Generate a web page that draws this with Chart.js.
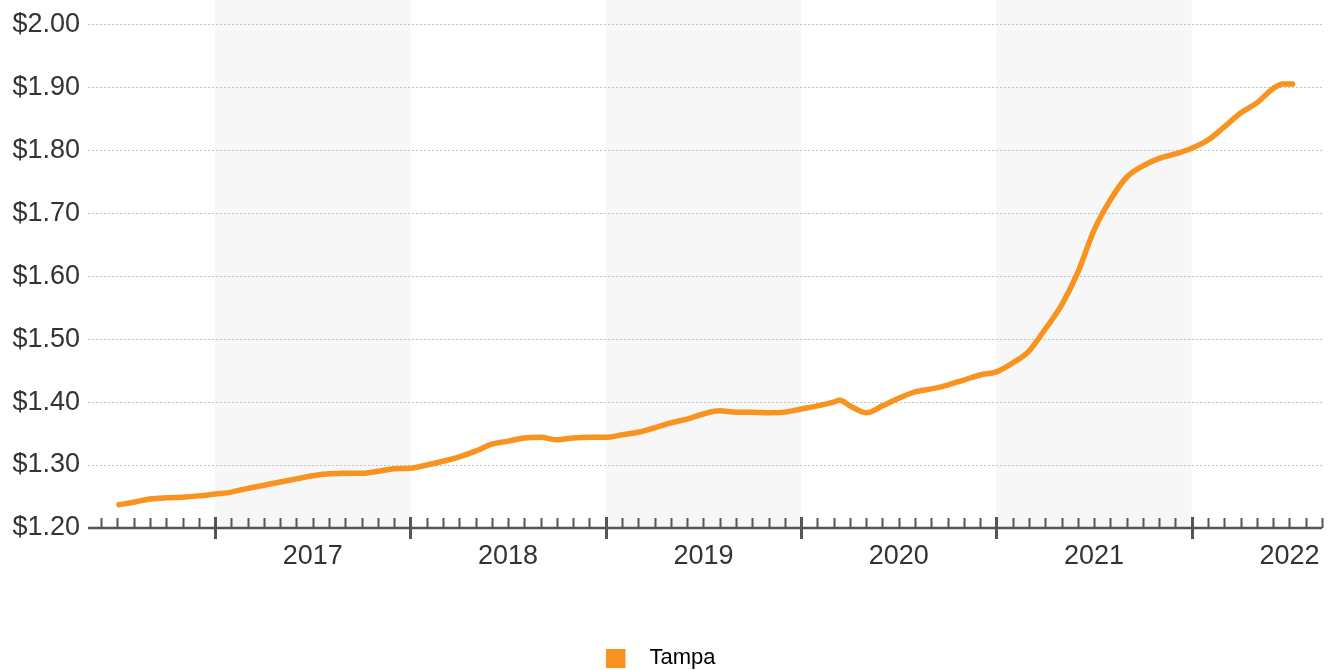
<!DOCTYPE html>
<html>
<head>
<meta charset="utf-8">
<script src="https://cdn.jsdelivr.net/npm/chart.js@4.4.1/dist/chart.umd.min.js"></script>
<style>
  html, body { margin: 0; padding: 0; background: #ffffff; }
  #wrap { width: 1330px; height: 670px; }
</style>
</head>
<body>
<div id="wrap"><canvas id="c" width="1330" height="670"></canvas></div>
<script>
// ---- data ----
const seriesName = 'Tampa';
const dates = [
  '2016-07-04','2016-08-01','2016-09-01','2016-10-01','2016-11-01','2016-12-01',
  '2017-01-01','2017-02-01','2017-03-01','2017-04-01','2017-05-01','2017-06-01',
  '2017-07-01','2017-08-01','2017-09-01','2017-10-01','2017-11-01','2017-12-01',
  '2018-01-01','2018-02-01','2018-03-01','2018-04-01','2018-05-01','2018-06-01',
  '2018-07-01','2018-08-01','2018-09-01','2018-10-01','2018-11-01','2018-12-01',
  '2019-01-01','2019-02-01','2019-03-01','2019-04-01','2019-05-01','2019-06-01',
  '2019-07-01','2019-08-01','2019-09-01','2019-10-01','2019-11-01','2019-12-01',
  '2020-01-01','2020-02-01','2020-03-01','2020-03-13','2020-04-01','2020-05-01',
  '2020-06-01','2020-07-01','2020-08-01','2020-09-01','2020-10-01','2020-11-01',
  '2020-12-01','2021-01-01','2021-02-01','2021-03-01','2021-04-01','2021-05-01',
  '2021-06-01','2021-07-01','2021-08-01','2021-09-01','2021-10-01','2021-11-01',
  '2021-12-01','2022-01-01','2022-02-01','2022-03-01','2022-04-01','2022-05-01',
  '2022-06-01','2022-06-19','2022-07-01','2022-07-07'
];
const tampaValues = [
  1.237,1.241,1.246,1.248,1.249,1.251,
  1.254,1.257,1.263,1.268,1.273,1.278,
  1.283,1.286,1.287,1.287,1.290,1.294,
  1.295,1.300,1.306,1.313,1.322,1.333,
  1.338,1.343,1.344,1.340,1.343,1.344,
  1.344,1.348,1.352,1.359,1.367,1.373,
  1.381,1.386,1.384,1.384,1.383,1.384,
  1.389,1.394,1.400,1.403,1.394,1.383,
  1.394,1.406,1.416,1.421,1.427,1.435,
  1.443,1.448,1.462,1.481,1.516,1.554,
  1.606,1.673,1.721,1.757,1.775,1.787,
  1.794,1.803,1.816,1.837,1.859,1.875,
  1.898,1.905,1.905,1.905
];
const yearLabels = ['2017','2018','2019','2020','2021','2022'];
const shadedYears = ['2017','2019','2021'];
const yTickValues = [1.20,1.30,1.40,1.50,1.60,1.70,1.80,1.90,2.00];
const axisStart = '2016-05-07';
const axisEnd = '2022-09-01';

// ---- helpers ----
const BASE_YEAR = 2016;
function monthIndex(s) {
  const [y, m, d] = s.split('-').map(Number);
  const dim = new Date(y, m, 0).getDate();
  return (y - BASE_YEAR) * 12 + (m - 1) + (d - 1) / dim;
}
const points = dates.map((d, i) => ({ x: monthIndex(d), y: tampaValues[i] }));
const yearMid = {};
yearLabels.forEach(y => { yearMid[(Number(y) - BASE_YEAR) * 12 + 6] = y; });

const ORANGE = '#f7931e';
const FONT = '"Liberation Sans", Arial, Helvetica, sans-serif';

// legend marker: orange square with empty space on its right
const marker = document.createElement('canvas');
marker.width = 32; marker.height = 19;
(function () {
  const mc = marker.getContext('2d');
  mc.fillStyle = ORANGE;
  mc.fillRect(0, 0, 19, 19);
})();

const decor = {
  id: 'decor',
  afterLayout(chart) {
    if (chart.legend) { chart.legend.top += 9; chart.legend.bottom += 9; }
  },
  beforeDraw(chart) {
    const { ctx, chartArea, scales: { x } } = chart;
    ctx.save();
    ctx.fillStyle = '#f7f7f7';
    shadedYears.forEach(y => {
      const x0 = x.getPixelForValue((Number(y) - BASE_YEAR) * 12);
      const x1 = x.getPixelForValue((Number(y) - BASE_YEAR) * 12 + 12);
      ctx.fillRect(x0, 0, x1 - x0, chartArea.bottom);
    });
    ctx.restore();
  },
  afterDatasetsDraw(chart) {
    const { ctx, chartArea, scales: { x } } = chart;
    const b = chartArea.bottom;
    ctx.save();
    ctx.strokeStyle = '#555555';
    ctx.lineWidth = 2.5;
    ctx.beginPath();
    ctx.moveTo(chartArea.left, b);
    ctx.lineTo(chartArea.right, b);
    ctx.stroke();
    for (let m = Math.ceil(x.min); m <= Math.floor(x.max); m++) {
      const px = Math.round(x.getPixelForValue(m)) + 0.5;
      ctx.beginPath();
      if (m % 12 === 0) {
        ctx.lineWidth = 3;
        ctx.moveTo(px, b - 11);
        ctx.lineTo(px, b + 11);
      } else {
        ctx.lineWidth = 2;
        ctx.moveTo(px, b - 10);
        ctx.lineTo(px, b);
      }
      ctx.stroke();
    }
    ctx.restore();
  }
};

new Chart(document.getElementById('c'), {
  type: 'line',
  data: {
    datasets: [{
      label: seriesName,
      data: points,
      borderColor: ORANGE,
      backgroundColor: ORANGE,
      borderWidth: 5.5,
      pointRadius: 0,
      cubicInterpolationMode: 'monotone',
      borderCapStyle: 'round',
      borderJoinStyle: 'round',
      fill: false
    }]
  },
  options: {
    responsive: false,
    animation: false,
    layout: { padding: { top: 23, right: 8, left: 0, bottom: 0 } },
    plugins: {
      legend: {
        position: 'bottom',
        labels: {
          font: { family: FONT, size: 22 },
          color: '#333333',
          usePointStyle: true,
          pointStyleWidth: 32,
          boxHeight: 19,
          padding: 6,
          generateLabels: (chart) => [{
            text: seriesName, fillStyle: ORANGE, strokeStyle: ORANGE,
            lineWidth: 0, hidden: false, datasetIndex: 0, pointStyle: marker
          }]
        }
      },
      tooltip: { enabled: false }
    },
    scales: {
      x: {
        type: 'linear',
        min: monthIndex(axisStart),
        max: monthIndex(axisEnd),
        afterBuildTicks: (s) => { s.ticks = Object.keys(yearMid).map(v => ({ value: Number(v) })); },
        afterFit: (s) => { s.height = 104; s.paddingRight = 0; s.paddingLeft = 0; },
        ticks: {
          autoSkip: false,
          maxRotation: 0,
          padding: 12,
          font: { family: FONT, size: 27 },
          color: '#333333',
          callback: (v) => yearMid[v] || ''
        },
        grid: { display: false, drawTicks: false },
        border: { display: false }
      },
      y: {
        min: 1.2,
        max: 2.0,
        afterBuildTicks: (s) => { s.ticks = yTickValues.map(v => ({ value: v })); },
        afterFit: (s) => { s.width = 88; },
        ticks: {
          padding: 8,
          font: { family: FONT, size: 27 },
          color: '#333333',
          callback: (v) => '$' + Number(v).toFixed(2)
        },
        grid: {
          drawTicks: false,
          color: (c) => (c.tick && Math.abs(c.tick.value - 1.2) < 1e-6) ? 'rgba(0,0,0,0)' : '#c2c2c2',
          lineWidth: 1
        },
        border: { display: false, dash: [2, 2] }
      }
    }
  },
  plugins: [decor]
});
</script>
</body>
</html>
